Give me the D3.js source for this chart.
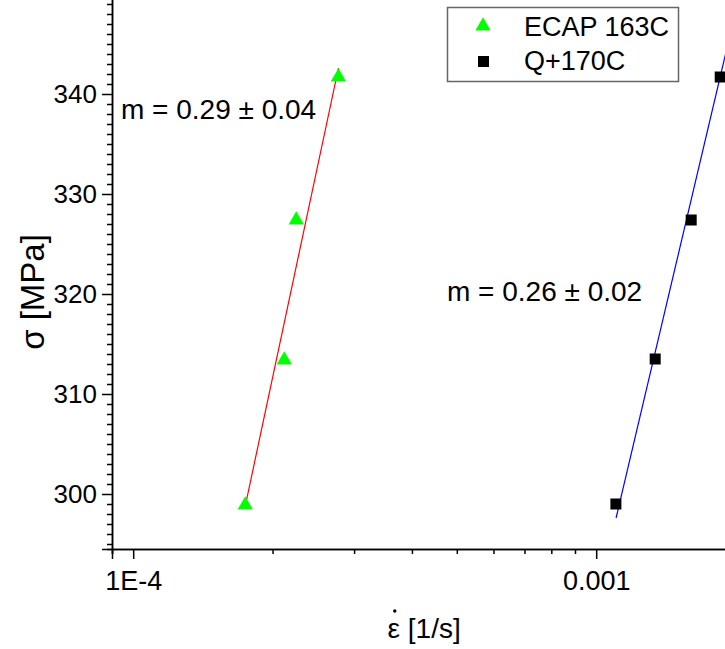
<!DOCTYPE html>
<html>
<head>
<meta charset="utf-8">
<script src="https://cdn.jsdelivr.net/npm/d3@7"></script>
<style>
    body { margin: 0; background: #fff; }
    svg { display: block; font-family: Arial, "Liberation Sans", sans-serif; }
</style>
</head>
<body>
<div id="chart"></div>
<script>
// Strain rate (1/s) and flow stress (MPa) for both series
const ecapRate = [1.746e-4, 2.12e-4, 2.25e-4, 2.775e-4];
const ecapStress = [299.0, 313.5, 327.5, 341.8];
const quenchRate = [1.103e-3, 1.341e-3, 1.604e-3, 1.853e-3];
const quenchStress = [299.0, 313.5, 327.4, 341.7];

// Fitted lines (end points)
const ecapFitRate = [1.746e-4, 2.776e-4];
const ecapFitStress = [298.8, 342.6];
const quenchFitRate = [1.104e-3, 2.03e-3];
const quenchFitStress = [297.6, 349.5];

// Axis ticks
const xMajorTicks = [1e-4, 1e-3];
const xTickLabels = ["1E-4", "0.001"];
const yMajorTicks = [300, 310, 320, 330, 340];

const seriesNames = ["ECAP 163C", "Q+170C"];
const slopeLabels = ["m = 0.29 \u00b1 0.04", "m = 0.26 \u00b1 0.02"];

const width = 725, height = 649;
const left = 112, bottom = 549;

const svg = d3.select("#chart").append("svg")
    .attr("width", width)
    .attr("height", height);

// log x scale: 1E-4 .. 0.001 spans 463px
const x = d3.scaleLog()
    .domain([9e-5, 2e-3])
    .range([left, left + 463 * Math.log10(2e-3 / 9e-5)]);

const y = d3.scaleLinear()
    .domain([294.5, 350])
    .range([bottom, bottom - 555]);

// minor tick values
let xMinor = [];
[1e-5, 1e-4, 1e-3].forEach(dec => {
    for (let k = 2; k <= 9; k++) {
        const v = dec * k;
        if (v >= x.domain()[0] && v <= x.domain()[1]) xMinor.push(v);
    }
});
let yMinor = d3.range(295, 350, 1).filter(v => v % 10 !== 0);

// X axis
const xAxisG = svg.append("g").attr("transform", `translate(0,${bottom})`);
xAxisG.call(d3.axisBottom(x).tickValues(xMinor).tickSize(5).tickFormat(""));
xAxisG.call(g => g.append("g").call(d3.axisBottom(x).tickValues(xMajorTicks).tickSize(10)
    .tickFormat((d, i) => xTickLabels[i])));
xAxisG.selectAll(".domain").attr("stroke", "#000").attr("stroke-width", 1.5);
xAxisG.selectAll("line").attr("stroke", "#000").attr("stroke-width", 1.5);
xAxisG.selectAll("text")
    .attr("fill", "#000")
    .style("font-size", "27px")
    .attr("dy", "1.02em");

// Y axis
const yAxisG = svg.append("g").attr("transform", `translate(${left},0)`);
yAxisG.call(d3.axisLeft(y).tickValues(yMinor).tickSize(5).tickFormat(""));
yAxisG.call(g => g.append("g").call(d3.axisLeft(y).tickValues(yMajorTicks).tickSize(10)));
yAxisG.selectAll(".domain").attr("stroke", "#000").attr("stroke-width", 1.5);
yAxisG.selectAll("line").attr("stroke", "#000").attr("stroke-width", 1.5);
yAxisG.selectAll("text")
    .attr("fill", "#000")
    .style("font-size", "26px")
    .attr("x", -15);

// Axis titles
svg.append("text")
    .attr("transform", `translate(44,${y(320.2)}) rotate(-90)`)
    .attr("text-anchor", "middle")
    .style("font-size", "33px")
    .text("\u03c3 [MPa]");

const xTitle = svg.append("text")
    .attr("x", x(4.25e-4))
    .attr("y", 638)
    .attr("text-anchor", "middle")
    .style("font-size", "28px");
const eps = xTitle.append("tspan").text("\u03b5");
xTitle.append("tspan").text(" [1/s]");

// dot over epsilon (time derivative)
const epsBox = eps.node().getBBox();
svg.append("circle")
    .attr("cx", epsBox.x + epsBox.width / 2 + 1)
    .attr("cy", 611)
    .attr("r", 1.7)
    .attr("fill", "#000");

// Fit lines
const line = d3.line().x(d => x(d[0])).y(d => y(d[1]));

svg.append("path")
    .datum(d3.zip(ecapFitRate, ecapFitStress))
    .attr("d", line)
    .attr("fill", "none")
    .attr("stroke", "#ff0000")
    .attr("stroke-width", 1.2);

svg.append("path")
    .datum(d3.zip(quenchFitRate, quenchFitStress))
    .attr("d", line)
    .attr("fill", "none")
    .attr("stroke", "#0000ff")
    .attr("stroke-width", 1.2);

// Data points
const triangle = d3.symbol().type(d3.symbolTriangle).size(100);

svg.selectAll(".ecap")
    .data(d3.zip(ecapRate, ecapStress))
    .enter()
    .append("path")
    .attr("class", "ecap")
    .attr("d", triangle)
    .attr("transform", d => `translate(${x(d[0])},${y(d[1]) + 1})`)
    .attr("fill", "#00ff00");

svg.selectAll(".quench")
    .data(d3.zip(quenchRate, quenchStress))
    .enter()
    .append("rect")
    .attr("class", "quench")
    .attr("x", d => x(d[0]) - 5.5)
    .attr("y", d => y(d[1]) - 5.5)
    .attr("width", 11)
    .attr("height", 11)
    .attr("fill", "#000");

// Slope annotations
svg.append("text")
    .attr("x", 121)
    .attr("y", 119)
    .style("font-size", "28px")
    .text(slopeLabels[0]);

svg.append("text")
    .attr("x", 447)
    .attr("y", 301)
    .style("font-size", "28px")
    .text(slopeLabels[1]);

// Legend
const legend = svg.append("g");
legend.append("rect")
    .attr("x", 447.5)
    .attr("y", 7.5)
    .attr("width", 231)
    .attr("height", 74)
    .attr("fill", "#fff")
    .attr("stroke", "#666")
    .attr("stroke-width", 1.5);

legend.append("path")
    .attr("d", triangle)
    .attr("transform", "translate(483,26)")
    .attr("fill", "#00ff00");

legend.append("rect")
    .attr("x", 478)
    .attr("y", 56)
    .attr("width", 11)
    .attr("height", 11)
    .attr("fill", "#000");

legend.selectAll(".legend-label")
    .data(seriesNames)
    .enter()
    .append("text")
    .attr("class", "legend-label")
    .attr("x", 524)
    .attr("y", (d, i) => 36 + i * 34)
    .style("font-size", "27px")
    .text(d => d);
</script>
</body>
</html>
